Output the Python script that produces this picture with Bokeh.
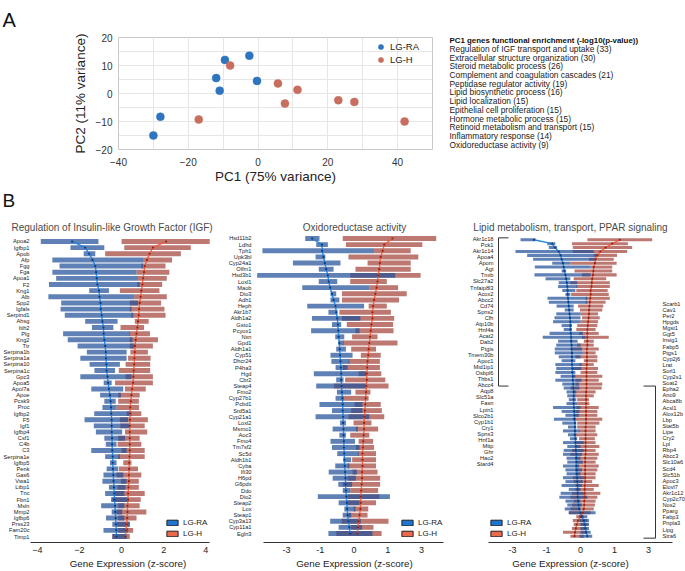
import numpy as np
from bokeh.plotting import figure
from bokeh.models import (ColumnDataSource, Range1d, FixedTicker, Legend,
                          LegendItem, CustomJSTickFormatter)
from bokeh.layouts import row, column
from bokeh.embed import file_html
from bokeh.resources import INLINE
from bokeh.core.properties import value

FONT = "Liberation Sans"

# ---------------- Panel A data ----------------
pc1_ra = [-30.0, -28.0, -12.0, -11.0, -9.5, -2.5, -0.3]
pc2_ra = [-15.0, -8.3, 5.5, 1.0, 12.0, 13.5, 4.5]
pc1_h = [-17.0, -8.0, 5.7, 7.7, 11.3, 23.0, 27.6, 42.0]
pc2_h = [-9.3, 10.0, 3.6, -3.6, 1.3, -2.4, -3.0, -10.0]

enrich_title = "PC1 genes functional enrichment (-log10(p-value))"
enrich_terms = ["Regulation of IGF transport and uptake", "Extracellular structure organization",
                "Steroid metabolic process", "Complement and coagulation cascades",
                "Peptidase regulator activity", "Lipid biosynthetic process", "Lipid localization",
                "Epithelial cell proliferation", "Hormone metabolic process",
                "Retinoid metabolism and transport", "Inflammatory response", "Oxidoreductase activity"]
enrich_scores = [33, 30, 26, 21, 19, 16, 15, 15, 15, 15, 14, 9]

# ---------------- Panel B1: IGF ----------------
igf_genes = ["Apoa2", "Igfbp1", "Apob", "Afp", "Fgg", "Fga", "Apoa1", "F2", "Kng1", "Alb", "Spp2", "Igfals",
             "Serpind1", "Ahsg", "Itih2", "Plg", "Kng2", "Ttr", "Serpina1b", "Serpina1a", "Serpina10",
             "Serpina1c", "Gpc3", "Apoa5", "Apol7a", "Apoe", "Pcsk9", "Proc", "Igfbp2", "F5", "Igf1",
             "Igfbp4", "Csf1", "C4b", "C3", "Serpina1e", "Igfbp5", "Penk", "Gas6", "Vwa1", "Ltbp1", "Tnc",
             "Fbn1", "Msln", "Mmp2", "Igfbp6", "Prss23", "Fam20c", "Timp1"]
igf_ra_q1 = [-3.84, -2.43, -1.80, -3.29, -2.95, -3.29, -3.11, -3.45, -1.54, -3.48, -2.87, -2.90, -2.70,
             -1.73, -1.41, -2.78, -2.56, -2.09, -1.65, -1.96, -1.52, -1.29, -1.96, -0.85, -1.44, -1.02,
             -0.82, -0.91, -1.30, -1.76, -1.32, -1.22, -0.82, -0.75, -1.44, -0.78, -0.55, -0.71, -0.86,
             -0.91, -0.60, -0.78, -0.50, -0.97, -0.47, -0.74, -0.44, -0.86, -0.44]
igf_ra_med = [-2.35, -1.73, -1.54, -1.38, -1.25, -1.21, -1.18, -1.15, -1.07, -1.05, -1.00, -0.99, -0.94,
              -0.91, -0.86, -0.85, -0.82, -0.78, -0.75, -0.74, -0.72, -0.71, -0.67, -0.64, -0.60, -0.55,
              -0.52, -0.50, -0.49, -0.47, -0.47, -0.47, -0.45, -0.45, -0.44, -0.42, -0.42, -0.41, -0.39,
              -0.38, -0.36, -0.35, -0.33, -0.31, -0.30, -0.28, -0.27, -0.25, -0.24]
igf_ra_q3 = [-1.10, -0.82, -1.25, 1.02, 1.02, 0.71, 0.78, 0.86, -0.60, 0.60, 0.78, 0.47, 0.55, -0.19,
             -0.39, 0.39, 0.52, 0.60, 0.24, 0.24, -0.08, -0.31, 0.47, -0.47, 0.08, -0.03, -0.28, -0.24,
             0.47, 0.31, 0.35, 0.03, 0.16, -0.24, 0.24, -0.08, -0.24, -0.16, 0.08, 0.24, 0.19, 0.13, 0.28,
             0.13, 0.03, 0.13, 0.39, 0.31, 0.24]
igf_h_q1 = [0.00, 0.13, -0.78, 1.02, 0.94, 0.71, 0.78, 0.75, -0.08, 0.60, 0.39, 0.39, 0.47, 0.63, -0.05,
            0.36, 0.39, 0.39, 0.42, 0.31, 0.19, -0.13, 0.19, -0.31, 0.16, -0.16, -0.16, -0.24, 0.24,
            -0.08, -0.06, 0.16, -0.16, -0.19, 0.00, -0.16, 0.08, -0.13, -0.24, -0.03, -0.19, -0.31,
            -0.44, -0.16, -0.24, -0.16, -0.22, -0.16, -0.44]
igf_h_med = [2.12, 1.49, 1.33, 1.21, 1.10, 1.07, 1.02, 0.99, 0.94, 0.91, 0.86, 0.83, 0.82, 0.78, 0.75,
             0.71, 0.67, 0.64, 0.63, 0.61, 0.60, 0.58, 0.56, 0.55, 0.50, 0.47, 0.44, 0.41, 0.40, 0.40,
             0.39, 0.39, 0.39, 0.39, 0.39, 0.38, 0.36, 0.36, 0.35, 0.35, 0.33, 0.31, 0.31, 0.28, 0.28,
             0.27, 0.24, 0.20, 0.19]
igf_h_q3 = [4.19, 3.29, 2.82, 2.40, 2.09, 2.27, 2.15, 1.93, 1.80, 2.15, 1.88, 2.04, 2.09, 1.29, 1.07,
            1.35, 1.73, 1.49, 1.25, 1.38, 1.36, 1.36, 1.49, 1.49, 1.15, 0.86, 0.82, 0.83, 0.94, 1.25,
            1.10, 1.22, 0.86, 0.94, 1.10, 1.10, 0.47, 0.78, 0.94, 0.82, 0.82, 1.10, 0.91, 0.86, 1.18,
            0.71, 0.39, 0.55, 0.39]
igf_ticks = [-4, -2, 0, 2, 4]

# ---------------- Panel B2: Oxidoreductase ----------------
ox_genes = ["Hsd11b2", "Ldhd", "Tph1", "Upk3bl", "Cyp24a1", "Olfm1", "Hsd3b1", "Loxl1", "Maob", "Dio3",
            "Adh1", "Heph", "Akr1b7", "Aldh1a2", "Gsto1", "Pcyox1", "Nxn", "Gpd1", "Aldh1a1", "Cyp51",
            "Dhcr24", "P4ha3", "Hgd", "Cbr2", "Steap4", "Fmo2", "Cyp27b1", "Pcbd1", "Srd5a1", "Cyp21a1",
            "Loxl2", "Msmo1", "Aoc3", "Fmo4", "Tm7sf2", "Sc5d", "Aldh1b1", "Cyba", "Ifi30", "H6pd",
            "G6pdx", "Ddo", "Dio2", "Steap2", "Lox", "Steap1", "Cyp3a13", "Cyp11a1", "Egln3"]
ox_ra_q1 = [-1.72, -1.17, -5.54, -1.20, -2.50, -1.06, -6.29, -1.06, -1.89, -0.62, -0.62, -1.61, -0.69,
            -1.37, -0.57, -1.41, -0.47, -0.38, -0.44, -0.62, -0.59, -0.46, -1.28, -0.44, -1.17, -0.42,
            -0.46, -1.03, -0.57, -1.20, -0.33, -0.55, -0.35, -0.62, -0.57, -0.41, -0.24, -0.47, -0.68,
            -0.55, -0.38, -0.26, -1.10, -0.37, -0.22, -0.26, -0.63, -0.37, -0.69]
ox_ra_med = [-1.36, -0.93, -0.92, -0.87, -0.82, -0.77, -0.71, -0.68, -0.63, -0.57, -0.52, -0.46, -0.44,
             -0.41, -0.39, -0.38, -0.37, -0.35, -0.34, -0.33, -0.32, -0.31, -0.30, -0.30, -0.29, -0.28,
             -0.27, -0.26, -0.26, -0.25, -0.25, -0.24, -0.24, -0.23, -0.23, -0.22, -0.22, -0.21, -0.20,
             -0.19, -0.19, -0.18, -0.17, -0.16, -0.15, -0.14, -0.12, -0.10, -0.08]
ox_ra_q3 = [-1.03, -0.71, 0.51, -0.80, -0.32, -0.52, 1.33, -0.41, 0.37, -0.44, -0.35, 0.23, -0.40, 0.14,
            -0.30, 0.12, -0.22, -0.24, -0.18, -0.03, -0.10, -0.14, 0.28, -0.24, 0.28, -0.06, -0.24, 0.19,
            0.19, 0.37, -0.18, 0.08, -0.18, 0.02, 0.12, 0.10, -0.06, -0.10, 0.06, 0.04, -0.04, -0.08,
            1.09, 0.12, 0.03, -0.06, 0.15, 0.18, 0.46]
ox_h_q1 = [-0.26, -0.18, 0.51, -0.12, 0.32, 0.03, -0.08, -0.08, 0.37, -0.28, -0.28, 0.35, -0.35, -0.28,
           -0.16, 0.03, -0.04, -0.26, -0.06, 0.15, -0.12, -0.26, 0.10, -0.20, -0.51, 0.03, -0.26, 0.01,
           -0.06, -0.12, -0.01, 0.04, -0.08, 0.10, 0.04, 0.08, -0.04, -0.14, -0.03, -0.14, -0.26, -0.08,
           -0.14, -0.16, -0.01, -0.12, -0.29, -0.06, -0.44]
ox_h_med = [1.20, 0.86, 0.80, 0.73, 0.70, 0.68, 0.64, 0.62, 0.59, 0.55, 0.51, 0.48, 0.46, 0.46, 0.43,
            0.41, 0.39, 0.37, 0.35, 0.34, 0.32, 0.31, 0.30, 0.30, 0.29, 0.28, 0.27, 0.26, 0.25, 0.24,
            0.23, 0.23, 0.22, 0.21, 0.20, 0.19, 0.19, 0.19, 0.18, 0.18, 0.17, 0.16, 0.15, 0.15, 0.14,
            0.12, 0.10, 0.08, 0.07]
ox_h_q3 = [4.40, 3.06, 2.20, 2.74, 2.20, 2.20, 2.92, 0.96, 1.47, 1.95, 1.52, 0.96, 1.13, 1.28, 1.23,
           1.25, 0.62, 1.44, 0.57, 0.73, 0.70, 0.70, 0.75, 0.90, 1.03, 0.40, 0.35, 0.73, 0.77, 0.86,
           0.43, 0.64, 0.37, 0.48, 0.51, 0.57, 0.57, 0.57, 0.62, 0.71, 0.71, 0.64, 0.68, 0.57, 0.34,
           0.32, 1.03, 0.49, 0.76]
log_ticks = [-3, -1, 0, 1, 3]

# ---------------- Panel B3: Lipid metabolism ----------------
lipid_up = ["Akr1c18", "Pck1", "Akr1c14", "Apoa4", "Apom", "Agt", "Tnxb", "Slc27a2", "Tnfaip8l3", "Acox2",
            "Abcc2", "Cd74", "Spns2", "Cfh", "Atp10b", "Hnf4a", "Acat2", "Dab2", "Ptgis", "Tmem30b",
            "Apoc1", "Mid1ip1", "Osbpl6", "Thbs1", "Abcc4", "Aqp8", "Slc51a", "Fasn", "Lpin1", "Slco2b1",
            "Cyp1b1", "Cry1", "Spns3", "Hnf1a", "Mttp", "Ghr", "Hao2", "Stard4"]
lipid_down = ["Scarb1", "Cav1", "Per2", "Hpgds", "Mgst1", "Ggt5", "Insig1", "Fabp5", "Ptgs1", "Cyp2j6",
              "Lrat", "Sorl1", "Cyp2s1", "Soat2", "Epha2", "Ano9", "Abca8b", "Acsl1", "Alox12b", "Lbp",
              "Stat5b", "Lipe", "Cry2", "Lpl", "Rbp4", "Abcc3", "Slc10a6", "Scd4", "Slc51b", "Apoc3",
              "Elovl7", "Akr1c12", "Cyp2c70", "Nos2", "Pparg", "Fabp3", "Pnpla3", "Lipg", "Stra6"]
lip_ra_q1 = [-2.40, -0.97, -0.91, -2.77, -1.97, -1.63, -0.78, -1.54, -0.47, -1.56,
             -1.04, -0.56, -0.58, -0.45, -0.36, -0.96, -0.91, -0.63, -0.38, -0.64,
             -0.70, -0.75, -0.47, -0.41, -0.88, -1.16, -0.58, -0.64, -0.69, -0.69,
             -0.56, -0.47, -0.67, -0.64, -0.67, -0.50, -0.67, -0.45, -0.41, -0.33,
             -0.31, -0.27, -0.33, -0.75, -0.47, -0.36, -0.72, -0.45, -0.29, -0.43,
             -0.29, -0.24, -0.43, -0.31, -0.41, -0.43, -0.33, -0.31, -0.43, -0.36,
             -0.33, -0.43, -0.36, -0.47, -0.27, -0.50, -0.54, -0.36, -0.31, -0.38,
             -0.27, -0.03, -0.02, 0.00, 0.00, 0.00, -0.02]
lip_ra_med = [-1.59, -0.78, -0.69, -0.56, -0.50, -0.47, -0.43, -0.41, -0.39, -0.36,
              -0.34, -0.32, -0.31, -0.30, -0.30, -0.29, -0.28, -0.27, -0.26, -0.25,
              -0.24, -0.23, -0.23, -0.23, -0.22, -0.21, -0.21, -0.20, -0.20, -0.19,
              -0.19, -0.19, -0.19, -0.18, -0.18, -0.17, -0.17, -0.16, -0.16, -0.15,
              -0.15, -0.15, -0.15, -0.14, -0.14, -0.13, -0.13, -0.12, -0.12, -0.12,
              -0.12, -0.11, -0.11, -0.10, -0.10, -0.09, -0.09, -0.09, -0.09, -0.08,
              -0.08, -0.07, -0.07, -0.06, -0.06, -0.06, -0.06, -0.05, -0.04, -0.03,
              0.00, 0.03, 0.07, 0.09, 0.11, 0.12, 0.15]
lip_ra_q3 = [-1.50, -0.67, -0.61, 0.31, 0.41, 0.36, -0.23, 0.23, -0.34, 0.23,
             -0.23, -0.07, -0.07, -0.11, -0.23, 0.15, 0.15, -0.15, -0.15, 0.00,
             0.00, 0.00, -0.19, -0.19, 0.05, 0.11, -0.06, 0.00, 0.03, 0.05,
             0.00, -0.11, 0.02, 0.02, -0.11, -0.11, 0.02, -0.03, -0.02, -0.09,
             -0.11, -0.09, -0.07, 0.00, -0.02, -0.03, -0.11, -0.09, -0.09, -0.02,
             -0.09, -0.07, 0.07, 0.00, 0.07, 0.03, 0.00, 0.05, -0.03, 0.03,
             0.00, 0.07, 0.05, 0.03, 0.00, 0.07, 0.15, 0.00, 0.03, 0.00,
             0.36, 0.15, 0.19, 0.19, 0.19, 0.23, 0.27]
lip_h_q1 = [0.15, -0.19, -0.17, -0.17, 0.31, 0.19, -0.23, 0.23, -0.13, 0.03,
            -0.15, -0.23, -0.09, -0.09, -0.21, 0.11, 0.11, -0.05, -0.01, 0.00,
            0.03, 0.00, -0.07, -0.09, -0.03, 0.03, 0.07, -0.07, -0.19, 0.05,
            -0.11, 0.07, -0.02, -0.17, 0.00, -0.19, -0.11, -0.11, -0.23, -0.15,
            -0.12, -0.07, -0.07, -0.09, -0.11, -0.11, -0.17, -0.07, -0.07, -0.03,
            -0.15, -0.03, -0.11, -0.11, -0.19, -0.23, -0.12, -0.09, -0.11, -0.12,
            -0.11, -0.17, -0.15, -0.11, -0.11, -0.19, -0.23, -0.15, -0.19, -0.23,
            -0.27, -0.09, -0.17, -0.15, -0.19, -0.43, -0.23]
lip_h_med = [1.23, 0.91, 0.67, 0.50, 0.41, 0.36, 0.34, 0.31, 0.30, 0.29,
             0.27, 0.26, 0.25, 0.23, 0.23, 0.22, 0.21, 0.20, 0.19, 0.19,
             0.18, 0.17, 0.16, 0.15, 0.15, 0.15, 0.15, 0.15, 0.14, 0.14,
             0.14, 0.14, 0.14, 0.13, 0.13, 0.13, 0.13, 0.13, 0.13, 0.12,
             0.12, 0.12, 0.12, 0.12, 0.12, 0.12, 0.12, 0.12, 0.11, 0.11,
             0.11, 0.11, 0.11, 0.11, 0.11, 0.11, 0.10, 0.10, 0.10, 0.10,
             0.10, 0.10, 0.10, 0.09, 0.09, 0.09, 0.09, 0.08, 0.08, 0.07,
             0.05, 0.00, -0.05, -0.08, -0.10, -0.12, -0.13]
lip_h_q3 = [3.32, 1.63, 1.87, 1.59, 1.11, 0.97, 1.09, 0.91, 0.91, 1.09,
            0.69, 0.82, 0.82, 0.74, 0.78, 0.82, 0.67, 0.59, 0.56, 0.43,
            0.48, 0.43, 0.41, 0.36, 0.45, 0.78, 0.31, 0.31, 0.45, 0.36,
            0.41, 0.41, 0.31, 0.43, 0.41, 0.56, 0.45, 0.56, 0.54, 0.36,
            0.31, 0.19, 0.20, 0.45, 0.41, 0.41, 0.56, 0.47, 0.36, 0.36,
            0.41, 0.34, 0.36, 0.47, 0.36, 0.45, 0.41, 0.36, 0.45, 0.41,
            0.36, 0.36, 0.27, 0.45, 0.31, 0.50, 0.41, 0.36, 0.34, 0.31,
            0.23, 0.07, 0.15, 0.15, 0.11, 0.15, 0.07]

# ---------------- styling ----------------
BLUE_BOX, RED_BOX = "#23509a", "#a3443a"
BOX_ALPHA = 0.72
BLUE_LINE, RED_LINE = "#1a7fe3", "#f0583a"
BLUE_DOT, RED_DOT = "#12386f", "#8a2519"
LEG_BLUE, LEG_RED = "#1c76d2", "#ec6a4c"
PCA_BLUE, PCA_RED = "#2f74bf", "#c86e5f"
TXT = "#222222"


def lin(v):
    return np.asarray(v, dtype=float)


def slog(v):
    v = np.asarray(v, dtype=float)
    return np.sign(v) * np.log1p(np.abs(v))


# ---------------- Panel A ----------------
TOP_H = 190
pA = figure(width=440, height=TOP_H, x_range=Range1d(-40, 50), y_range=Range1d(-20, 20),
            output_backend="svg", toolbar_location=None,
            min_border_left=118, min_border_right=8, min_border_top=32, min_border_bottom=41)
pA.outline_line_color = "#c8c8c8"
pA.title.text = "A"
pA.title.align = "left"
pA.title.offset = -116
pA.title.standoff = 13
pA.title.text_font = FONT
pA.title.text_font_size = "20px"
pA.title.text_font_style = "normal"
pA.title.text_color = "#111111"
pA.xaxis.ticker = FixedTicker(ticks=[-40, -20, 0, 20, 40], minor_ticks=[-30, -10, 10, 30, 50])
pA.yaxis.ticker = FixedTicker(ticks=[-20, -10, 0, 10, 20], minor_ticks=[-15, -5, 5, 15])
for g in (pA.xgrid, pA.ygrid):
    g.grid_line_color = "#e6e6e6"
    g.minor_grid_line_color = "#e6e6e6"
for ax in (pA.xaxis, pA.yaxis):
    ax.axis_line_color = None
    ax.major_tick_line_color = None
    ax.minor_tick_line_color = None
    ax.major_tick_out = 0
    ax.major_label_text_font = FONT
    ax.major_label_text_font_size = "10px"
    ax.major_label_text_color = "#333333"
    ax.axis_label_text_font = FONT
    ax.axis_label_text_font_size = "13.5px"
    ax.axis_label_text_font_style = "normal"
    ax.axis_label_text_color = TXT
pA.xaxis.major_label_standoff = 4
pA.yaxis.major_label_standoff = 2
pA.xaxis.axis_label_standoff = 0
pA.yaxis.axis_label_standoff = 5
pA.xaxis.axis_label = "PC1 (75% variance)"
pA.yaxis.axis_label = "PC2 (11% variance)"
rA1 = pA.scatter(pc1_ra, pc2_ra, size=8, fill_color=PCA_BLUE, line_color=PCA_BLUE, line_alpha=0.5)
rA2 = pA.scatter(pc1_h, pc2_h, size=8, fill_color=PCA_RED, line_color=PCA_RED, line_alpha=0.5)
legA = Legend(items=[LegendItem(label="LG-RA", renderers=[rA1]), LegendItem(label="LG-H", renderers=[rA2])],
              location=(256, 83), glyph_width=13, glyph_height=13, label_height=13, spacing=0,
              padding=2, margin=0, label_standoff=3, border_line_color=None, background_fill_alpha=0,
              label_text_font=FONT, label_text_font_size="9.5px", label_text_color=TXT)
pA.add_layout(legA)

# ---------------- Enrichment text (frame 32..149 like panel A) ----------------
LINE_PX = 9.1
FIRST_PX = 34.8
pT = figure(width=245, height=TOP_H, x_range=Range1d(0, 1),
            y_range=Range1d((149 - FIRST_PX) / LINE_PX, (32 - FIRST_PX) / LINE_PX),
            output_backend="svg", toolbar_location=None,
            min_border_left=0, min_border_right=0, min_border_top=32, min_border_bottom=41,
            x_axis_location=None, y_axis_location=None)
pT.outline_line_color = None
pT.grid.grid_line_color = None
lines = [f"{t} ({s})" for t, s in zip(enrich_terms, enrich_scores)]
x_text = 9 / 245
pT.text(x=[x_text], y=[0], text=[enrich_title], text_font=value(FONT), text_font_size="7.9px",
        text_font_style="bold", text_baseline="middle", text_color="#111111")
pT.text(x=[x_text] * len(lines), y=list(range(1, len(lines) + 1)), text=lines, text_font=value(FONT),
        text_font_size="8.4px", text_baseline="middle", text_color=TXT)

# ---------------- strip holding the "B" panel letter ----------------
STRIP_H = 20
pB = figure(width=685, height=STRIP_H, x_range=Range1d(0, 685), y_range=Range1d(0, STRIP_H),
            output_backend="svg", toolbar_location=None, title_location=None,
            min_border_left=0, min_border_right=0, min_border_top=0, min_border_bottom=0,
            x_axis_location=None, y_axis_location=None)
pB.outline_line_color = None
pB.grid.grid_line_color = None
pB.text(x=[2], y=[STRIP_H / 2], text=["B"], text_font=value(FONT), text_font_size="19px",
        text_baseline="middle", text_color="#111111")

# ---------------- Panel B helpers ----------------
B_TOP = TOP_H + STRIP_H
B_H = 571 - B_TOP
FR_TOP, FR_BOT = 234, 543  # frame top / bottom (page px)


def yrange(n, first_px, last_px):
    sp = (last_px - first_px) / (n - 1)
    return Range1d(start=(n - 1) + (FR_BOT - last_px) / sp, end=-(first_px - FR_TOP) / sp), sp


def bpanel(width, min_left, xr, yr, title, yaxis=True):
    p = figure(width=width, height=B_H, x_range=xr, y_range=yr, output_backend="svg",
               toolbar_location=None, min_border_left=min_left, min_border_right=0,
               min_border_top=FR_TOP - B_TOP, min_border_bottom=571 - FR_BOT,
               y_axis_location="left" if yaxis else None)
    p.outline_line_color = None
    p.grid.grid_line_color = None
    p.title.text = title
    p.title.text_font = FONT
    p.title.text_font_size = "10px"
    p.title.text_font_style = "normal"
    p.title.text_color = "#4a4a4a"
    p.title.standoff = 3
    ax = p.xaxis[0]
    ax.axis_line_color = "#333333"
    ax.axis_line_width = 1.2
    ax.major_tick_line_color = None
    ax.minor_tick_line_color = None
    ax.major_tick_out = 0
    ax.major_label_standoff = 4
    ax.major_label_text_font = FONT
    ax.major_label_text_font_size = "9px"
    ax.major_label_text_color = TXT
    ax.axis_label = "Gene Expression (z-score)"
    ax.axis_label_text_font = FONT
    ax.axis_label_text_font_size = "9.8px"
    ax.axis_label_text_font_style = "normal"
    ax.axis_label_text_color = TXT
    ax.axis_label_standoff = 2
    return p


def draw_boxes(p, n, f, ra_q1, ra_med, ra_q3, h_q1, h_med, h_q3, bh):
    src = ColumnDataSource(dict(y=list(range(n)), rl=f(h_q1), rr=f(h_q3), rm=f(h_med),
                                bl=f(ra_q1), br=f(ra_q3), bm=f(ra_med)))
    p.hbar(y="y", left="rl", right="rr", height=bh, source=src, fill_color=RED_BOX,
           fill_alpha=BOX_ALPHA, line_color=None)
    p.hbar(y="y", left="bl", right="br", height=bh, source=src, fill_color=BLUE_BOX,
           fill_alpha=BOX_ALPHA, line_color=None)
    p.line("rm", "y", source=src, line_color=RED_LINE, line_width=1.4, line_alpha=0.95)
    p.line("bm", "y", source=src, line_color=BLUE_LINE, line_width=1.4, line_alpha=0.95)
    p.scatter("rm", "y", source=src, size=2.2, fill_color=RED_DOT, line_color=None)
    p.scatter("bm", "y", source=src, size=2.2, fill_color=BLUE_DOT, line_color=None)


def gene_axis(p, genes, standoff):
    ax = p.yaxis[0]
    ax.ticker = FixedTicker(ticks=list(range(len(genes))))
    ax.formatter = CustomJSTickFormatter(args=dict(genes=genes),
                                         code="const i = Math.round(tick); return genes[i] || '';")
    ax.axis_line_color = None
    ax.major_tick_line_color = None
    ax.minor_tick_line_color = None
    ax.major_tick_out = 0
    ax.major_label_standoff = standoff
    ax.major_label_text_font = FONT
    ax.major_label_text_font_size = "5.7px"
    ax.major_label_text_color = TXT


def add_legend(p, x, y):
    e = dict(left=[np.nan], right=[np.nan], top=[np.nan], bottom=[np.nan])
    r1 = p.quad(source=ColumnDataSource(e), left="left", right="right", top="top", bottom="bottom",
                fill_color=LEG_BLUE, line_color="#222222", line_width=1)
    r2 = p.quad(source=ColumnDataSource(dict(e)), left="left", right="right", top="top", bottom="bottom",
                fill_color=LEG_RED, line_color="#222222", line_width=1)
    leg = Legend(items=[LegendItem(label="LG-RA", renderers=[r1]), LegendItem(label="LG-H", renderers=[r2])],
                 location=(x, y), glyph_width=14, glyph_height=7, label_height=8, spacing=2,
                 padding=0, margin=0, label_standoff=4, border_line_color=None,
                 background_fill_alpha=0, label_text_font=FONT, label_text_font_size="8px",
                 label_text_color=TXT)
    p.add_layout(leg)


def log_axis(p, bounds):
    ax = p.xaxis[0]
    ax.ticker = FixedTicker(ticks=[float(t) for t in slog(log_ticks)])
    ax.formatter = CustomJSTickFormatter(
        code="const v = Math.sign(tick) * (Math.exp(Math.abs(tick)) - 1); return Math.round(v).toString();")
    ax.bounds = bounds


# ---------------- Panel B1 (page x 0..225, frame from 28) ----------------
PX1, Z1 = 21.25, 120
yr1, sp1 = yrange(len(igf_genes), 241, 537)
p1 = bpanel(225, 28, Range1d((28 - Z1) / PX1, (225 - Z1) / PX1), yr1,
            "Regulation of Insulin-like Growth Factor (IGF)")
p1.title.align = "left"
p1.title.offset = -19
draw_boxes(p1, len(igf_genes), lin, igf_ra_q1, igf_ra_med, igf_ra_q3, igf_h_q1, igf_h_med, igf_h_q3, 0.8)
gene_axis(p1, igf_genes, 1)
p1.xaxis[0].ticker = FixedTicker(ticks=igf_ticks)
p1.xaxis[0].bounds = ((28 - Z1) / PX1, (209 - Z1) / PX1)
add_legend(p1, 135, 4)

# ---------------- Panel B2 (page x 225..455, frame from 252) ----------------
PXL = 49.0
Z2 = 353
yr2, sp2 = yrange(len(ox_genes), 238, 534)
p2 = bpanel(230, 27, Range1d((252 - Z2) / PXL, (455 - Z2) / PXL), yr2, "Oxidoreductase activity")
p2.title.align = "center"
p2.title.offset = 3
draw_boxes(p2, len(ox_genes), slog, ox_ra_q1, ox_ra_med, ox_ra_q3, ox_h_q1, ox_h_med, ox_h_q3, 0.8)
gene_axis(p2, ox_genes, 2)
log_axis(p2, ((262 - Z2) / PXL, (443 - Z2) / PXL))
add_legend(p2, 147, 4)

# ---------------- Panel B3 (page x 455..685, frame = whole) ----------------
n3 = len(lipid_up) + len(lipid_down)
yr3, sp3 = yrange(n3, 239.3, 536.7)
Z3 = 580
p3 = bpanel(230, 0, Range1d((455 - Z3) / PXL, (685 - Z3) / PXL), yr3,
            "Lipid metabolism, transport, PPAR signaling", yaxis=False)
p3.title.align = "center"
p3.title.offset = 11
draw_boxes(p3, n3, slog, lip_ra_q1, lip_ra_med, lip_ra_q3, lip_h_q1, lip_h_med, lip_h_q3, 0.78)
log_axis(p3, ((488 - Z3) / PXL, (672 - Z3) / PXL))
add_legend(p3, 34, 4)

# gene-name columns and brackets
LAB_PX = 6.12
nu, nd = len(lipid_up), len(lipid_down)
left_y = [(-1.0 + i * LAB_PX) / sp3 for i in range(nu)]
right_y = [(n3 - 1) - (0.6 + (nd - 1 - j) * LAB_PX) / sp3 for j in range(nd)]
xl_text, xl_br, xl_tk = (493 - Z3) / PXL, (498 - Z3) / PXL, (508 - Z3) / PXL
xr_text, xr_br, xr_tk = (662 - Z3) / PXL, (655 - Z3) / PXL, (643 - Z3) / PXL
p3.text(x=[xl_text] * nu, y=left_y, text=lipid_up, text_align="right", text_baseline="middle",
        text_font=value(FONT), text_font_size="5.7px", text_color=TXT)
p3.text(x=[xr_text] * nd, y=right_y, text=lipid_down, text_align="left", text_baseline="middle",
        text_font=value(FONT), text_font_size="5.7px", text_color=TXT)
top_u, bot_u = -0.5, nu - 0.5
top_d, bot_d = nu - 0.5, n3 - 0.5
p3.line(x=[xl_tk, xl_br, xl_br, xl_tk], y=[top_u, top_u, bot_u, bot_u], line_color="#333333", line_width=1)
p3.line(x=[xr_tk, xr_br, xr_br, xr_tk], y=[top_d, top_d, bot_d, bot_d], line_color="#333333", line_width=1)

layout = column(row(pA, pT), row(pB), row(p1, p2, p3))
open("out.html", "w").write(file_html(layout, INLINE))
